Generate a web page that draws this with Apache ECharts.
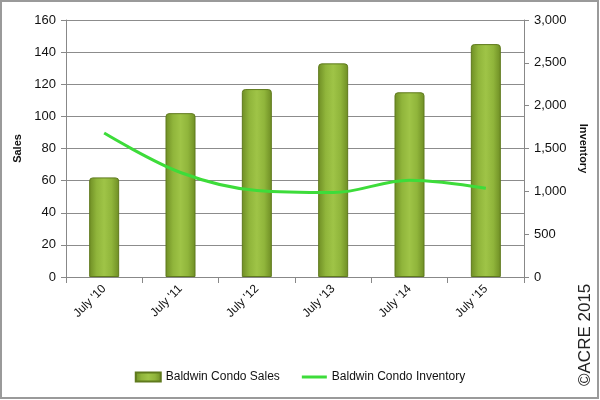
<!DOCTYPE html>
<html><head><meta charset="utf-8">
<script src="https://cdn.jsdelivr.net/npm/echarts@6/dist/echarts.min.js"></script>
<style>html,body{margin:0;padding:0;background:#fff}#c{width:600px;height:400px}</style>
</head><body><div id="c"></div>
<script>
const categories = ["July '10", "July '11", "July '12", "July '13", "July '14", "July '15"];
const salesValues = [62, 102, 117, 133, 115, 145];
const inventoryValues = [1680, 1220, 1010, 985, 1130, 1035];
const salesTicks = [0, 160, 20];
const inventoryTicks = [0, 3000, 500];

const font = 'Liberation Sans';
const chart = echarts.init(document.getElementById('c'), null, {renderer: 'canvas'});
const barGrad = new echarts.graphic.LinearGradient(0, 0, 1, 0, [
  {offset: 0, color: '#6e8d24'},
  {offset: 0.25, color: '#90b53b'},
  {offset: 0.5, color: '#9fc447'},
  {offset: 0.75, color: '#90b53b'},
  {offset: 1, color: '#6e8d24'}
]);
chart.setOption({
  animation: false,
  textStyle: {fontFamily: font},
  grid: {left: 66, right: 76, top: 20, bottom: 123},
  graphic: [
    {type: 'rect', shape: {x: 1, y: 1, width: 597, height: 397}, style: {fill: 'none', stroke: '#9a9a9a', lineWidth: 2}, silent: true},
    {type: 'text', x: 577, y: 386, rotation: Math.PI / 2, style: {text: '©ACRE 2015', fontFamily: font, fontSize: 17, fill: '#222'}}
  ],
  legend: {
    left: 'center', top: 366, itemGap: 22, itemWidth: 25, itemHeight: 9,
    textStyle: {fontFamily: font, fontSize: 12, color: '#111'},
    data: [
      {name: 'Baldwin Condo Sales', icon: 'rect'},
      {name: 'Baldwin Condo Inventory', icon: 'path://M0,0 L25,0 L25,3 L0,3 Z', itemStyle: {color: '#3ddc3a'}}
    ]
  },
  xAxis: {
    type: 'category', data: categories, boundaryGap: true,
    axisLine: {lineStyle: {color: '#888', width: 1}},
    axisTick: {show: true, alignWithLabel: false, length: 6, lineStyle: {color: '#888'}},
    axisLabel: {rotate: 45, fontSize: 12, color: '#111', margin: 10}
  },
  yAxis: [
    {
      type: 'value', min: salesTicks[0], max: salesTicks[1], interval: salesTicks[2],
      name: 'Sales', nameLocation: 'middle', nameRotate: 90, nameGap: 41,
      nameTextStyle: {fontWeight: 'bold', fontSize: 11, color: '#111'},
      axisLine: {show: true, lineStyle: {color: '#888'}},
      axisTick: {show: true, length: 5, lineStyle: {color: '#888'}},
      axisLabel: {fontSize: 13, color: '#111', margin: 10},
      splitLine: {lineStyle: {color: '#8c8c8c', width: 1}}
    },
    {
      type: 'value', min: inventoryTicks[0], max: inventoryTicks[1], interval: inventoryTicks[2],
      name: 'Inventory', nameLocation: 'middle', nameRotate: -90, nameGap: 49,
      nameTextStyle: {fontWeight: 'bold', fontSize: 11, color: '#111'},
      axisLine: {show: true, lineStyle: {color: '#888'}},
      axisTick: {show: true, length: 5, lineStyle: {color: '#888'}},
      axisLabel: {fontSize: 13, color: '#111', margin: 10, formatter: v => v.toLocaleString('en-US')},
      splitLine: {show: false}
    }
  ],
  series: [
    {
      name: 'Baldwin Condo Sales', type: 'bar', data: salesValues, barWidth: 30,
      itemStyle: {color: barGrad, borderColor: '#5f7a1d', borderWidth: 1, borderRadius: [3, 3, 0, 0]}
    },
    {
      name: 'Baldwin Condo Inventory', type: 'line', yAxisIndex: 1, data: inventoryValues,
      smooth: 0.35, symbol: 'none',
      lineStyle: {color: '#3ddc3a', width: 3},
      itemStyle: {color: '#3ddc3a'}
    }
  ]
});
</script></body></html>
